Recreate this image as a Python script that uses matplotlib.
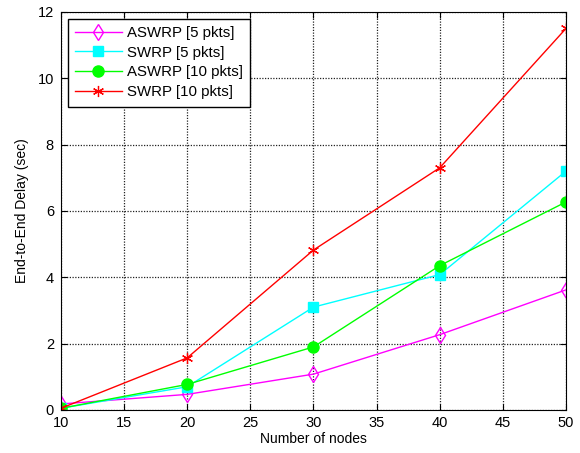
import matplotlib
matplotlib.use("Agg")
import matplotlib.pyplot as plt

plt.rcParams['font.family'] = ['Liberation Sans', 'DejaVu Sans']

nodes = [10, 20, 30, 40, 50]
aswrp5 = [0.18, 0.47, 1.08, 2.27, 3.62]
swrp5 = [0.05, 0.70, 3.10, 4.08, 7.20]
aswrp10 = [0.05, 0.77, 1.90, 4.35, 6.27]
swrp10 = [0.05, 1.57, 4.82, 7.30, 11.50]
labels = ['ASWRP [5 pkts]', 'SWRP [5 pkts]', 'ASWRP [10 pkts]', 'SWRP [10 pkts]']

fig = plt.figure(figsize=(5.8, 4.53), dpi=100)
ax = fig.add_axes([0.105, 0.095, 0.871, 0.879])

ax.plot(nodes, aswrp5, color='#ff00ff', lw=1, marker='d', ms=8, mfc='none', mec='#ff00ff', label=labels[0])
ax.plot(nodes, swrp5, color='#00ffff', lw=1, marker='s', ms=7, mfc='#00ffff', label=labels[1])
ax.plot(nodes, aswrp10, color='#00ff00', lw=1, marker='o', ms=8, mfc='#00ff00', label=labels[2])
ax.plot(nodes, swrp10, color='#ff0000', lw=1, marker=(6, 2, 0), ms=8, mew=0.9, label=labels[3])

ax.set_xlim(10, 50)
ax.set_ylim(0, 12)
ax.set_xticks(range(10, 51, 5))
ax.set_yticks(range(0, 13, 2))
ax.grid(True, color='#222222', linestyle=(0, (1, 1.2)), linewidth=0.9)
ax.tick_params(axis='x', direction='in', labelsize=10.5, top=True, length=4, pad=4)
ax.tick_params(axis='y', direction='in', labelsize=10.5, right=True, length=4, pad=5)
for s in ax.spines.values():
    s.set_linewidth(0.8)
ax.set_xlabel('Number of nodes', fontsize=10, labelpad=2)
ax.set_ylabel('End-to-End Delay (sec)', fontsize=10, labelpad=6)

leg = ax.legend(loc='upper left', fontsize=10.8, fancybox=False, framealpha=1,
                edgecolor='black', borderaxespad=0.45, handlelength=3.1,
                labelspacing=0.38, borderpad=0.5, handletextpad=0.35)
leg.get_frame().set_linewidth(1.0)

fig.savefig('out.png', dpi=100)
